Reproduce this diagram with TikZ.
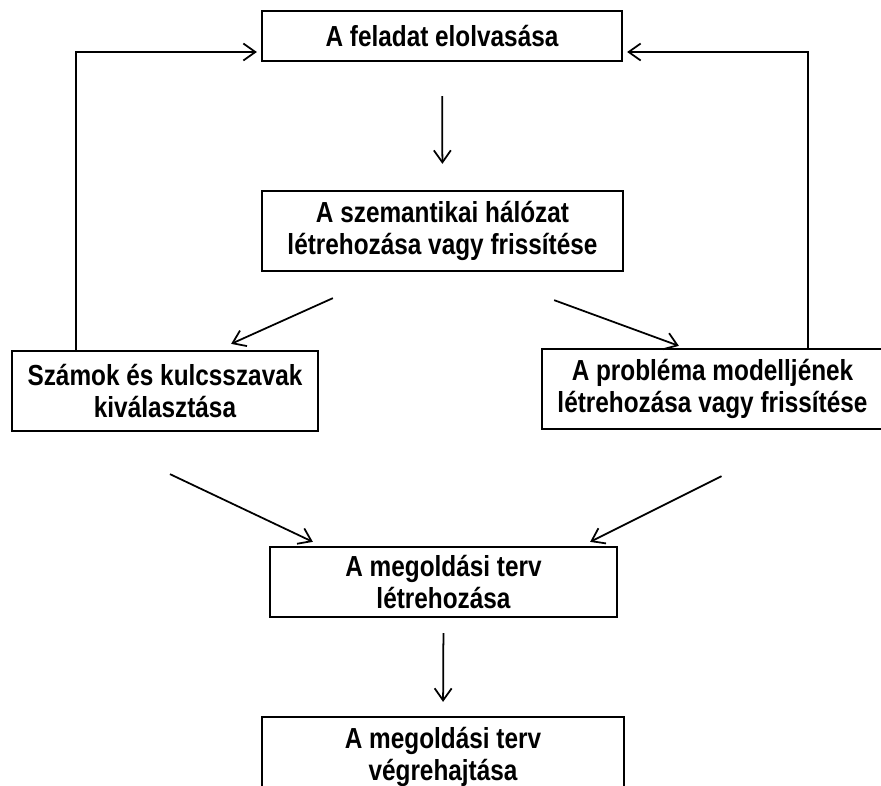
\documentclass[tikz,border=0pt]{standalone}
\usepackage{fontspec}
\newfontfamily\boxfont{Liberation Sans}[FakeStretch=0.84]
\usepackage{tikz}
\usetikzlibrary{arrows.meta,positioning,calc}

\begin{document}
\begin{tikzpicture}[
  stepbox/.style={
    draw,
    inner sep=0pt,
    align=center,
    line width=1.3pt,
    font=\boxfont\bfseries\fontsize{16.5}{18.5}\selectfont
  },
  arr/.style={-{Straight Barb[length=2.4mm,width=3.4mm]}, line width=1pt}
]
\def\XMid{8.86}
\useasboundingbox (0,0) rectangle (17.62,-15.7);
\clip (0,0) rectangle (17.62,-15.7);

\node[stepbox,minimum width=7.2cm,minimum height=1.0cm] (read) at (8.84,-0.72)
  {A feladat elolvasása};
\node[stepbox,minimum width=7.22cm,minimum height=1.6cm] (net) at (8.85,-4.62)
  {A szemantikai hálózat\\létrehozása vagy frissítése};
\node[stepbox,minimum width=6.12cm,minimum height=1.6cm] (nums) at (3.30,-7.82)
  {Számok és kulcsszavak\\kiválasztása};
\node[stepbox,minimum width=6.82cm,minimum height=1.6cm] (model) at (14.25,-7.78)
  {A probléma modelljének\\létrehozása vagy frissítése};
\node[stepbox,minimum width=6.94cm,minimum height=1.4cm] (plan) at (8.87,-11.64)
  {A megoldási terv\\létrehozása};
\node[stepbox,minimum width=7.24cm,minimum height=1.6cm] (exec) at (\XMid,-15.14)
  {A megoldási terv\\végrehajtása};

\draw[arr,shorten <=0.68cm,shorten >=0.52cm] (read.south) -- (net.north);
\draw[arr] ([xshift=1.44cm,yshift=-0.52cm]net.south west) --
  ([xshift=-1.76cm,yshift=0.12cm]nums.north east);
\draw[arr] ([xshift=-1.4cm,yshift=-0.56cm]net.south east) --
  ([xshift=2.76cm,yshift=0.04cm]model.north west);
\draw[arr] ([xshift=0.1cm,yshift=-0.84cm]nums.south) --
  ([xshift=0.88cm,yshift=0.08cm]plan.north west);
\draw[arr] ([xshift=0.18cm,yshift=-0.92cm]model.south) --
  ([xshift=-0.56cm,yshift=0.08cm]plan.north east);
\draw[arr,shorten <=0.3cm,shorten >=0.28cm] (plan.south) -- (exec.north);

\draw[arr,shorten >=0.08cm] ([xshift=1.3cm]nums.north west) |-
  ([yshift=-0.32cm]read.west);
\draw[arr,shorten >=0.08cm] ([xshift=5.34cm]model.north west) |-
  ([yshift=-0.32cm]read.east);
\end{tikzpicture}
\end{document}
